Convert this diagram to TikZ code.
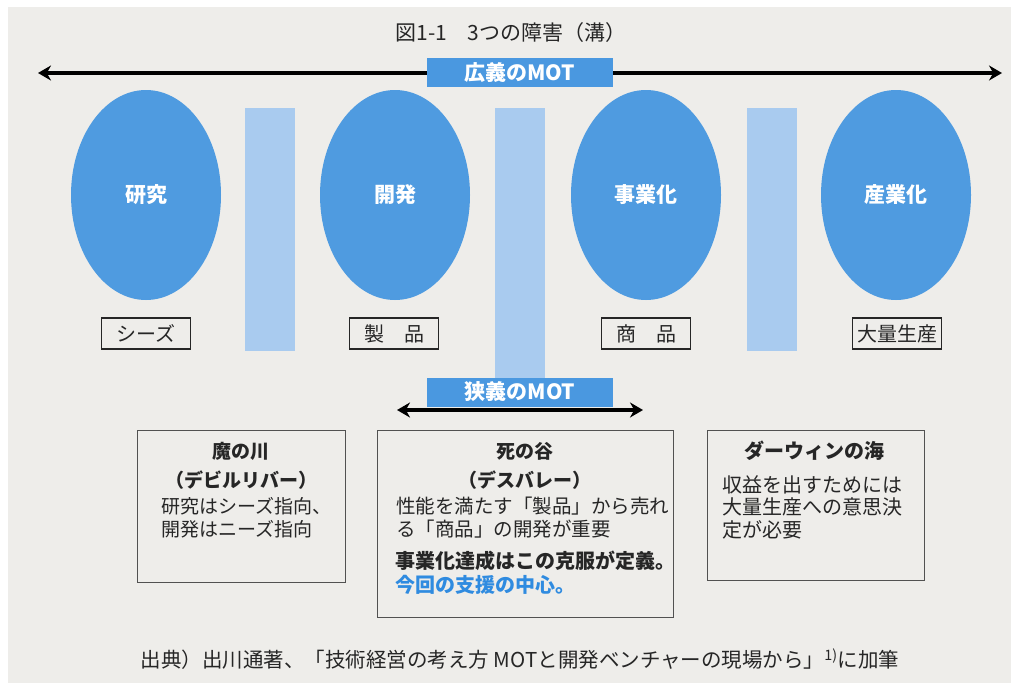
\documentclass[tikz,border=0pt]{standalone}
\usepackage{fontspec}
\setmainfont{Noto Sans CJK JP}
\usetikzlibrary{arrows.meta,shapes.geometric}
\definecolor{bg}{HTML}{EEEDEA}
\definecolor{ellblue}{HTML}{4F9BE0}
\definecolor{barblue}{HTML}{A9CBEF}
\definecolor{motblue}{HTML}{4A98E0}
\definecolor{txt}{HTML}{262626}
\definecolor{hiblue}{HTML}{2F8BE0}
\tikzset{
  ellip/.style={ellipse, fill=ellblue, draw=none, minimum width=150pt, minimum height=210pt, inner sep=0pt, text=white, font=\fontsize{21}{22}\selectfont\bfseries},
  barbox/.style={rectangle, fill=barblue, draw=none, minimum width=50pt, inner sep=0pt},
  motbox/.style={rectangle, fill=motblue, draw=none, minimum width=186pt, minimum height=29pt, inner sep=0pt, text=white, font=\fontsize{21}{22}\selectfont\bfseries},
  tagbox/.style={rectangle, draw=txt, line width=1.2pt, fill=bg, minimum width=89pt, minimum height=31pt, inner sep=0pt, text=txt, font=\fontsize{20}{22}\selectfont},
  infobox/.style={rectangle, draw=txt!80, line width=1pt, inner sep=0pt},
  ttl/.style={text=txt, font=\fontsize{19}{24}\selectfont\bfseries, inner sep=0pt},
  body/.style={text=txt, font=\fontsize{19}{23}\selectfont, inner sep=0pt, align=left, anchor=north west},
  arr/.style={line width=3.5pt, {Stealth[length=13pt,width=15pt]}-{Stealth[length=13pt,width=15pt]}},
}
\begin{document}
\begin{tikzpicture}[x=1pt,y=-1pt]
\useasboundingbox (0,0) rectangle (1011,683);
\fill[white] (0,0) rectangle (1011,683);
\fill[bg] (8,7) rectangle (1011,683);

% title
\node[text=txt, font=\fontsize{21}{22}\selectfont, inner sep=0pt] (title) at (511,33) {図1-1\hspace{1em}3つの障害（溝）};

% wide MOT arrow
\coordinate (tl) at (38,73);
\coordinate (tr) at (1002,73);
\draw[arr] (tl) -- (tr);
\node[motbox] (wide) at (519.5,72.5) {広義のMOT};

% bars
\node[barbox, minimum height=243pt] (bar1) at (270,229.5) {};
\node[barbox, minimum height=272pt] (bar2) at (520,244) {};
\node[barbox, minimum height=243pt] (bar3) at (772,229.5) {};

% ellipses
\node[ellip] (e1) at (146,195) {研究};
\node[ellip] (e2) at (395,195) {開発};
\node[ellip] (e3) at (646,195) {事業化};
\node[ellip] (e4) at (896,195) {産業化};

% tags
\node[tagbox] (t1) at (146,333.5) {シーズ};
\node[tagbox] (t2) at (394,333.5) {製\hspace{1em}品};
\node[tagbox] (t3) at (646,333.5) {商\hspace{1em}品};
\node[tagbox] (t4) at (897,333.5) {大量生産};

% narrow MOT
\node[motbox] (narrow) at (520,392) {狭義のMOT};
\coordinate (nl) at (397,410);
\coordinate (nr) at (643,410);
\draw[arr] (nl) -- (nr);

% info boxes
\node[infobox, minimum width=208pt, minimum height=152pt] (b1) at (241,506) {};
\node[infobox, minimum width=296pt, minimum height=187pt] (b2) at (525,523.5) {};
\node[infobox, minimum width=217pt, minimum height=150pt] (b3) at (815.5,505) {};

\node[ttl] (b1t) at (241,451) {魔の川};
\node[ttl] (b1s) at (241,480) {（デビルリバー）};
\node[body] (b1b) at (161,497) {研究はシーズ指向、\\開発はニーズ指向};

\node[ttl] (b2t) at (525,451) {死の谷};
\node[ttl] (b2s) at (525,480) {（デスバレー）};
\node[body, font=\fontsize{19.5}{23}\selectfont] (b2b) at (396,497) {性能を満たす「製品」から売れ\\る「商品」の開発が重要};
\node[body, font=\fontsize{20}{24}\selectfont\bfseries] (b2c) at (395,551) {事業化達成はこの克服が定義。\\\textcolor{hiblue}{今回の支援の中心。}};

\node[ttl, font=\fontsize{20}{24}\selectfont\bfseries] (b3t) at (814,451) {ダーウィンの海};
\node[body, font=\fontsize{20}{22.5}\selectfont] (b3b) at (722,475) {収益を出すためには\\大量生産への意思決\\定が必要};

% footer
\node[text=txt, font=\fontsize{20.5}{22}\selectfont, inner sep=0pt] (foot) at (520,659) {出典）出川通著、「技術経営の考え方 MOTと開発ベンチャーの現場から」\textsuperscript{1)}に加筆};
\end{tikzpicture}
\end{document}
